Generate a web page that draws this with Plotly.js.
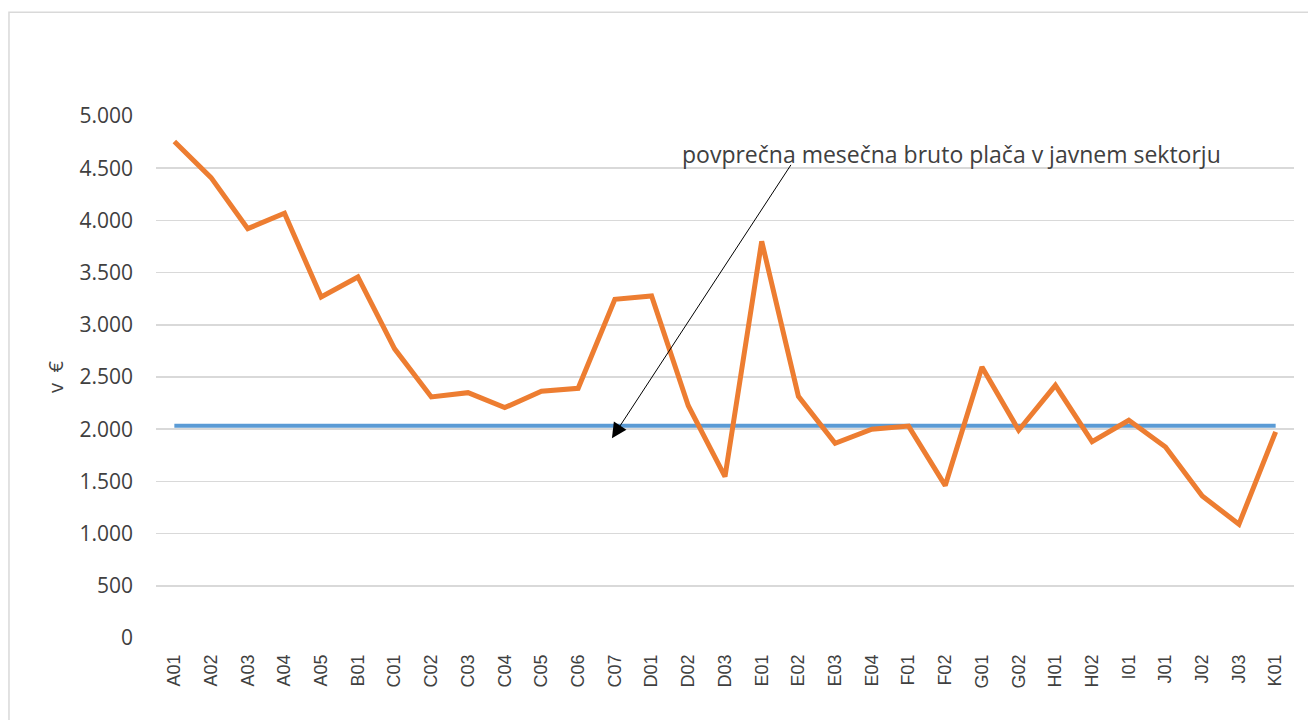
<!DOCTYPE html>
<html>
<head>
<meta charset="utf-8">
<script src="https://cdn.plot.ly/plotly-3.0.1.min.js"></script>
<style>
html, body { margin: 0; padding: 0; background: #ffffff; }
#chart { width: 1308px; height: 720px; }
</style>
</head>
<body>
<div id="chart"></div>
<script>
const categories = ["A01","A02","A03","A04","A05","B01","C01","C02","C03","C04","C05","C06","C07","D01","D02","D03","E01","E02","E03","E04","F01","F02","G01","G02","H01","H02","I01","J01","J02","J03","K01"];
const grossWage = [4755,4410,3921,4068,3266,3458,2770,2309,2350,2207,2363,2392,3244,3276,2225,1545,3800,2315,1865,2000,2030,1460,2595,1990,2420,1880,2085,1830,1360,1090,1975];
const publicSectorAvg = [2033,2033,2033,2033,2033,2033,2033,2033,2033,2033,2033,2033,2033,2033,2033,2033,2033,2033,2033,2033,2033,2033,2033,2033,2033,2033,2033,2033,2033,2033,2033];
const yTickValues = [0,500,1000,1500,2000,2500,3000,3500,4000,4500,5000];
const annotationText = "povprečna mesečna bruto plača v javnem sektorju";
const yTitle = "v  €";

const traces = [
  {
    x: categories, y: publicSectorAvg, type: "scatter", mode: "lines",
    line: { color: "#5B9BD5", width: 4 }, hoverinfo: "skip", name: "javni sektor"
  },
  {
    x: categories, y: grossWage, type: "scatter", mode: "lines",
    line: { color: "#ED7D31", width: 5, shape: "linear" }, name: "plača"
  }
];

const layout = {
  width: 1308, height: 720,
  margin: { l: 156, r: 14, t: 116, b: 82, pad: 0 },
  paper_bgcolor: "#ffffff", plot_bgcolor: "#ffffff",
  showlegend: false,
  separators: ",.",
  xaxis: {
    type: "category",
    range: [-0.5, 30.5],
    showgrid: false, zeroline: false, showline: false,
    ticks: "", tickangle: -90,
    ticklabelstandoff: 12,
    tickfont: { family: "Liberation Sans Narrow, Liberation Sans, Arial, sans-serif", size: 18, color: "#404040" },
    automargin: false
  },
  yaxis: {
    range: [0, 5000],
    tickvals: yTickValues,
    tickformat: ",d",
    showgrid: true, gridcolor: "#d9d9d9", gridwidth: 1.5,
    zeroline: false, showline: false, ticks: "",
    ticklabelstandoff: 22,
    tickfont: { family: "Open Sans, sans-serif", size: 21, color: "#404040" },
    title: { text: yTitle, font: { family: "Open Sans, sans-serif", size: 20, color: "#404040" }, standoff: 10 },
    automargin: false
  },
  shapes: [
    {
      type: "rect", xref: "paper", yref: "paper",
      x0: -0.1292, x1: 1.03, y0: -0.3, y1: 1.1987,
      line: { color: "#d9d9d9", width: 1.5 }, fillcolor: "rgba(0,0,0,0)", layer: "below"
    }
  ],
  annotations: [
    {
      xref: "paper", yref: "paper", x: 0.4605, y: 0.9266,
      xanchor: "left", yanchor: "middle",
      text: annotationText, showarrow: false,
      font: { family: "Open Sans, sans-serif", size: 23, color: "#404040" }
    },
    {
      xref: "x", yref: "y", x: 11.92, y: 1913,
      ax: 182, ay: -278, axref: "pixel", ayref: "pixel",
      text: " ", showarrow: true,
      arrowhead: 2, arrowsize: 3, arrowwidth: 1, arrowcolor: "#000000",
      standoff: 0, startstandoff: 0
    }
  ]
};

Plotly.newPlot("chart", traces, layout, { displayModeBar: false, staticPlot: true });
</script>
</body>
</html>
